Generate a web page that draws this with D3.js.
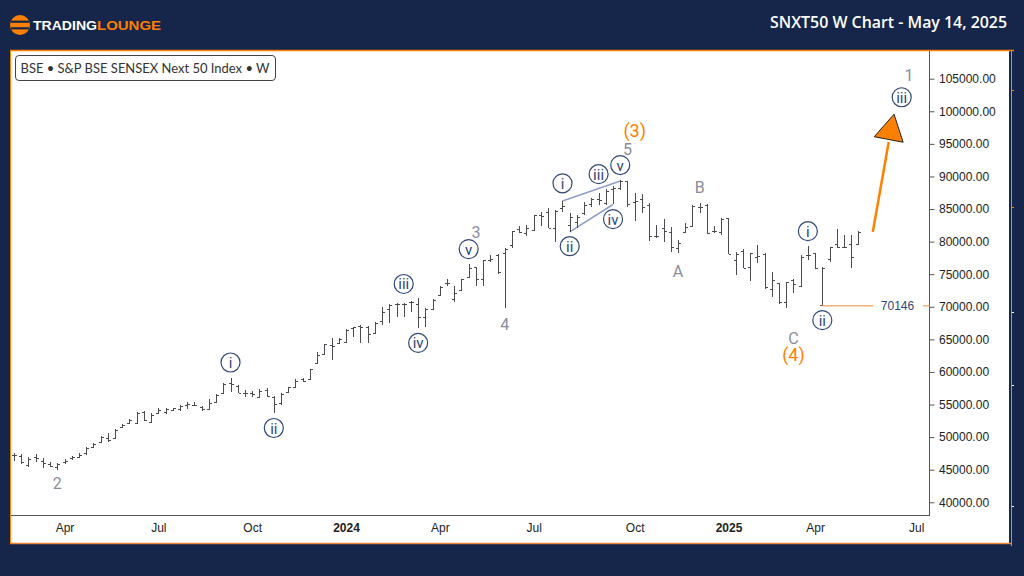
<!DOCTYPE html>
<html>
<head>
<meta charset="utf-8">
<script src="https://cdn.jsdelivr.net/npm/d3@7"></script>
<style>
html, body { margin: 0; padding: 0; background: #15264a; overflow: hidden; }
svg { display: block; }
text { font-family: "Liberation Sans", Arial, sans-serif; }
</style>
</head>
<body>
<svg id="chart" width="1024" height="576"></svg>
<script>
// weekly bars, values
var opens = [47250,47150,45700,46900,46400,45850,45450,46250,46750,47000,
  47500,48550,49300,49800,49800,51600,52150,52200,53900,52250,
  53750,53900,54150,54250,54900,55000,54700,54350,55400,56800,
  58250,57900,56700,56700,56200,57200,56200,55200,56950,57700,
  58850,58850,61300,62700,64150,64400,64650,66700,67050,66950,
  66000,67850,69600,70500,70400,70800,70500,68500,69600,71800,
  73600,71200,72650,74500,76050,74200,77150,77950,78200,79450,
  82000,81250,81850,84050,84600,82050,85100,82550,83050,84350,
  85750,86500,85850,88150,88300,89350,86100,86500,85600,80850,
  82050,81500,78950,81500,82400,85350,85600,81650,81500,83550,
  77200,78550,76050,77600,78050,72700,73600,70700,74100,73200,
  77950,78200,70250,77400,79600,79200,79700,79700]
var highs = [47500,47400,46900,47350,46750,46250,46100,46600,47150,47500,
  48450,49050,50250,50600,51200,52000,52800,53800,54050,53650,
  54400,54400,54500,54900,55350,55350,54800,55800,56600,58250,
  59000,58000,57200,57100,57350,57500,56300,56700,57750,58850,
  59000,60500,63100,64300,65150,65150,66550,66950,67150,67050,
  67700,69900,70450,70600,70600,70950,71300,69750,71200,73250,
  74250,73200,74250,76550,76050,77250,77950,78100,78950,81650,
  82450,82550,84050,84600,85100,84850,86300,84350,84050,86100,
  86650,87500,88000,88500,89450,89350,87400,87300,85850,82550,
  83400,82300,80250,82900,85600,85950,85700,82400,83550,83550,
  78450,78800,78300,79450,78200,75400,73600,73850,74250,77900,
  79350,78200,76150,79200,81900,81000,81000,81600]
var lows = [46400,45900,45450,46250,45300,45450,44950,45950,46500,46800,
  47250,48450,49250,49300,49750,51500,52100,52100,52500,52250,
  53550,53550,54050,54050,54250,54800,54050,54300,55350,56700,
  56850,56700,56200,56200,56050,56200,53650,54900,56850,57600,
  58500,58750,61150,62600,61850,64300,64500,65400,64500,64500,
  65900,67200,67550,68400,68500,69200,66700,66950,69500,71650,
  73200,70800,72450,74350,73200,73200,76900,75100,69750,78950,
  81350,80850,81650,82400,82050,80000,84600,81500,82050,84050,
  85350,85600,85600,85700,87900,85350,83200,84350,80150,80500,
  79950,78450,78200,81350,82300,84350,81150,81250,81000,78100,
  74850,75900,74000,76650,72800,71550,70500,69850,72050,73100,
  77150,75800,70146,76900,79000,79100,75900,79700]
var closes = [47250,46200,46700,46750,46000,45550,45900,46400,47000,47250,
  48300,48900,50050,49550,51100,51850,52650,53750,52650,53450,
  54150,54250,54400,54750,55050,54900,54250,55200,56450,58150,
  58150,56800,56700,56600,57100,56300,55050,56600,57650,58650,
  58650,60400,62600,64300,64050,65100,66450,66850,66950,65800,
  67450,69250,70250,70400,70500,70800,68500,69650,71050,73100,
  73600,72050,74200,75900,74200,77150,77400,75400,78850,81600,
  81500,82050,84050,83900,82050,84750,85500,83800,83800,85600,
  86500,86400,87800,88300,89350,85750,86250,85250,80850,80850,
  81650,79100,79850,82300,85500,85350,81250,81650,83400,78100,
  78100,76000,78200,77800,73000,74100,70700,73750,73500,77700,
  77950,76000,75900,79200,79100,79200,77600,81500]

var yTicks = d3.range(40000, 105001, 5000)
var xTickBars = [7, 20, 33, 46, 59, 72, 86, 99, 111, 125]
var xTickLabels = ['Apr', 'Jul', 'Oct', '2024', 'Apr', 'Jul', 'Oct', '2025', 'Apr', 'Jul']

// wave labels: text, bar index, value
var grayLabels = [['2', 6, 43000], ['3', 64, 81450], ['4', 68, 67350], ['5', 85, 94200],
  ['A', 92, 75500], ['B', 95, 88350], ['C', 108, 65200], ['1', 124, 105550]]
var orangeLabels = [['(3)', 86, 97100], ['(4)', 108, 62750]]
var circleLabels = [['i', 30, 61450], ['ii', 36, 51400], ['iii', 54, 73500], ['iv', 56, 64450],
  ['v', 63, 78850], ['i', 76, 88950], ['ii', 77, 79300], ['iii', 81, 90350], ['iv', 83, 83450],
  ['v', 84, 91750], ['i', 110, 81600], ['ii', 112, 67950], ['iii', 123, 102150]]

var wedgeLines = [[[76, 86250], [84, 89300]], [[77, 81500], [83, 85700]]]
var levelValue = 70146
var levelBar = 112
var arrowLine = [[119, 81500], [121.2, 95300]]
var arrowHead = [[121.94, 99550], [119.2, 96100], [123.2, 95250]]

// small marks on the strip at the right edge
var stripOrange = [90, 207]
var stripWhite = [312, 385, 506]

var navy = '#15264a', orange = '#ff7f00', inkBlue = '#2f4676'

var svg = d3.select('#chart')

// page frame
svg.append('rect').attr('width', 1024).attr('height', 576).attr('fill', navy)
svg.append('rect').attr('x', 11).attr('y', 51).attr('width', 998).attr('height', 492).attr('fill', '#fff')
svg.append('line').attr('x1', 10).attr('x2', 1014).attr('y1', 50.5).attr('y2', 50.5).attr('stroke', orange).attr('stroke-width', 1.5)
svg.append('line').attr('x1', 10).attr('x2', 1012).attr('y1', 543.5).attr('y2', 543.5).attr('stroke', '#e8853a').attr('stroke-width', 1.5)
svg.append('line').attr('x1', 10.5).attr('x2', 10.5).attr('y1', 50).attr('y2', 544).attr('stroke', orange)
svg.append('line').attr('x1', 1011.5).attr('x2', 1011.5).attr('y1', 51).attr('y2', 546).attr('stroke', '#e8853a')
svg.append('g').selectAll('line').data(stripOrange.concat(stripWhite)).join('line')
    .attr('x1', 1012).attr('x2', 1014).attr('y1', function(d) { return d + 0.5 }).attr('y2', function(d) { return d + 0.5 })
    .attr('stroke', function(d) { return stripOrange.indexOf(d) >= 0 ? orange : '#fff' })

// logo
var logo = svg.append('g')
logo.append('circle').attr('cx', 20).attr('cy', 25).attr('r', 10).attr('fill', orange)
;[21.7, 28.3].forEach(function(y) {
    logo.append('rect').attr('x', 11).attr('y', y - 1.1).attr('width', 18).attr('height', 2.2).attr('fill', navy)
})
logo.append('text').attr('x', 33).attr('y', 29.5).attr('font-size', 12).attr('font-weight', 'bold')
    .attr('fill', '#fff').attr('textLength', 64).attr('lengthAdjust', 'spacingAndGlyphs').text('TRADING')
logo.append('text').attr('x', 97).attr('y', 29.5).attr('font-size', 12).attr('font-weight', 'bold')
    .attr('fill', orange).attr('textLength', 64).attr('lengthAdjust', 'spacingAndGlyphs').text('LOUNGE')

svg.append('text').attr('x', 770).attr('y', 28)
    .attr('fill', '#fff').attr('font-size', 16).attr('font-weight', 600)
    .attr('textLength', 237).attr('lengthAdjust', 'spacingAndGlyphs')
    .style('font-family', '"Open Sans", sans-serif')
    .text('SNXT50 W Chart - May 14, 2025')

// scales
var x = d3.scaleLinear().domain([0, 117]).range([14, 14 + 7.217 * 117])
var y = d3.scaleLinear().domain([40000, 105000]).range([502.3, 78.7])

// axes
var xAxis = d3.axisBottom(x).tickValues(xTickBars).tickSize(0).tickPadding(8)
    .tickFormat(function(d, i) { return xTickLabels[i] })
var gx = svg.append('g').attr('transform', 'translate(0,515.5)').call(xAxis)
gx.select('.domain').remove()
gx.selectAll('text').attr('font-size', 12).attr('fill', '#222')
    .style('font-family', '"Liberation Sans", Arial, sans-serif')
    .attr('font-weight', function(d, i) { return xTickLabels[i].length == 4 ? 'bold' : 'normal' })

var yAxis = d3.axisRight(y).tickValues(yTicks).tickSize(5).tickPadding(4.5)
    .tickFormat(d3.format('.2f'))
var gy = svg.append('g').attr('transform', 'translate(929.5,0)').call(yAxis)
gy.select('.domain').remove()
gy.selectAll('line').attr('stroke', '#555')
gy.selectAll('text').attr('font-size', 12).attr('fill', '#222')
    .style('font-family', '"Liberation Sans", Arial, sans-serif')

svg.append('line').attr('x1', 11).attr('x2', 930).attr('y1', 515.5).attr('y2', 515.5).attr('stroke', '#555')
svg.append('line').attr('x1', 929.5).attr('x2', 929.5).attr('y1', 51).attr('y2', 516).attr('stroke', '#555')

// legend box
svg.append('rect').attr('x', 15.5).attr('y', 55.5).attr('width', 260).attr('height', 25).attr('rx', 3.5)
    .attr('fill', '#fff').attr('stroke', '#444')
svg.append('text').attr('x', 20.5).attr('y', 72.5).attr('font-size', 13).attr('fill', '#333')
    .attr('textLength', 249).attr('lengthAdjust', 'spacingAndGlyphs')
    .style('font-family', 'Lato, sans-serif')
    .text('BSE \u2022 S&P BSE SENSEX Next 50 Index \u2022 W')

// wedge lines
svg.append('g').selectAll('line').data(wedgeLines).join('line')
    .attr('x1', function(d) { return x(d[0][0]) }).attr('y1', function(d) { return y(d[0][1]) })
    .attr('x2', function(d) { return x(d[1][0]) }).attr('y2', function(d) { return y(d[1][1]) })
    .attr('stroke', '#8f9fc9').attr('stroke-width', 1.6)

// ohlc bars
var bars = svg.append('g').selectAll('g').data(d3.range(opens.length)).join('g')
    .attr('stroke', '#4b4b4f').attr('stroke-width', 1).attr('shape-rendering', 'crispEdges')
bars.append('line')
    .attr('x1', function(i) { return Math.round(x(i)) + 0.5 }).attr('x2', function(i) { return Math.round(x(i)) + 0.5 })
    .attr('y1', function(i) { return y(highs[i]) }).attr('y2', function(i) { return y(lows[i]) })
bars.append('line')
    .attr('x1', function(i) { return Math.round(x(i)) - 2 }).attr('x2', function(i) { return Math.round(x(i)) + 0.5 })
    .attr('y1', function(i) { return Math.round(y(opens[i])) + 0.5 }).attr('y2', function(i) { return Math.round(y(opens[i])) + 0.5 })
bars.append('line')
    .attr('x1', function(i) { return Math.round(x(i)) + 0.5 }).attr('x2', function(i) { return Math.round(x(i)) + 3 })
    .attr('y1', function(i) { return Math.round(y(closes[i])) + 0.5 }).attr('y2', function(i) { return Math.round(y(closes[i])) + 0.5 })

// level line
svg.append('line').attr('x1', x(levelBar) - 1).attr('x2', 873.5).attr('y1', y(levelValue)).attr('y2', y(levelValue))
    .attr('stroke', '#f28a3a').attr('stroke-width', 1)
svg.append('line').attr('x1', 923).attr('x2', 930).attr('y1', y(levelValue)).attr('y2', y(levelValue))
    .attr('stroke', '#f28a3a').attr('stroke-width', 1)
svg.append('text').attr('x', 897.5).attr('y', y(levelValue) + 4).attr('text-anchor', 'middle')
    .attr('font-size', 12).attr('fill', inkBlue).text(String(levelValue))

// arrow
svg.append('line').attr('x1', x(arrowLine[0][0])).attr('y1', y(arrowLine[0][1]))
    .attr('x2', x(arrowLine[1][0])).attr('y2', y(arrowLine[1][1]))
    .attr('stroke', orange).attr('stroke-width', 2.5)
svg.append('path')
    .attr('d', d3.line().x(function(d) { return x(d[0]) }).y(function(d) { return y(d[1]) }).curve(d3.curveLinearClosed)(arrowHead))
    .attr('fill', orange).attr('stroke', '#222').attr('stroke-width', 1)

// wave labels
svg.append('g').selectAll('text').data(grayLabels).join('text')
    .attr('x', function(d) { return x(d[1]) }).attr('y', function(d) { return y(d[2]) + 6 })
    .attr('text-anchor', 'middle').attr('font-size', 16).attr('fill', '#8a8d99')
    .style('font-family', 'Roboto, sans-serif').text(function(d) { return d[0] })
svg.append('g').selectAll('text').data(orangeLabels).join('text')
    .attr('x', function(d) { return x(d[1]) }).attr('y', function(d) { return y(d[2]) + 6.5 })
    .attr('text-anchor', 'middle').attr('font-size', 18).attr('fill', orange)
    .style('font-family', 'Roboto, sans-serif').text(function(d) { return d[0] })

var circ = svg.append('g').selectAll('g').data(circleLabels).join('g')
    .attr('transform', function(d) { return 'translate(' + x(d[1]) + ',' + y(d[2]) + ')' })
circ.append('circle').attr('r', 9.5).attr('fill', '#fff').attr('stroke', inkBlue).attr('stroke-width', 1.2)
circ.append('text').attr('y', 5.5).attr('text-anchor', 'middle').attr('font-size', 15).attr('fill', inkBlue)
    .style('font-family', 'Roboto, sans-serif').text(function(d) { return d[0] })
</script>
</body>
</html>
